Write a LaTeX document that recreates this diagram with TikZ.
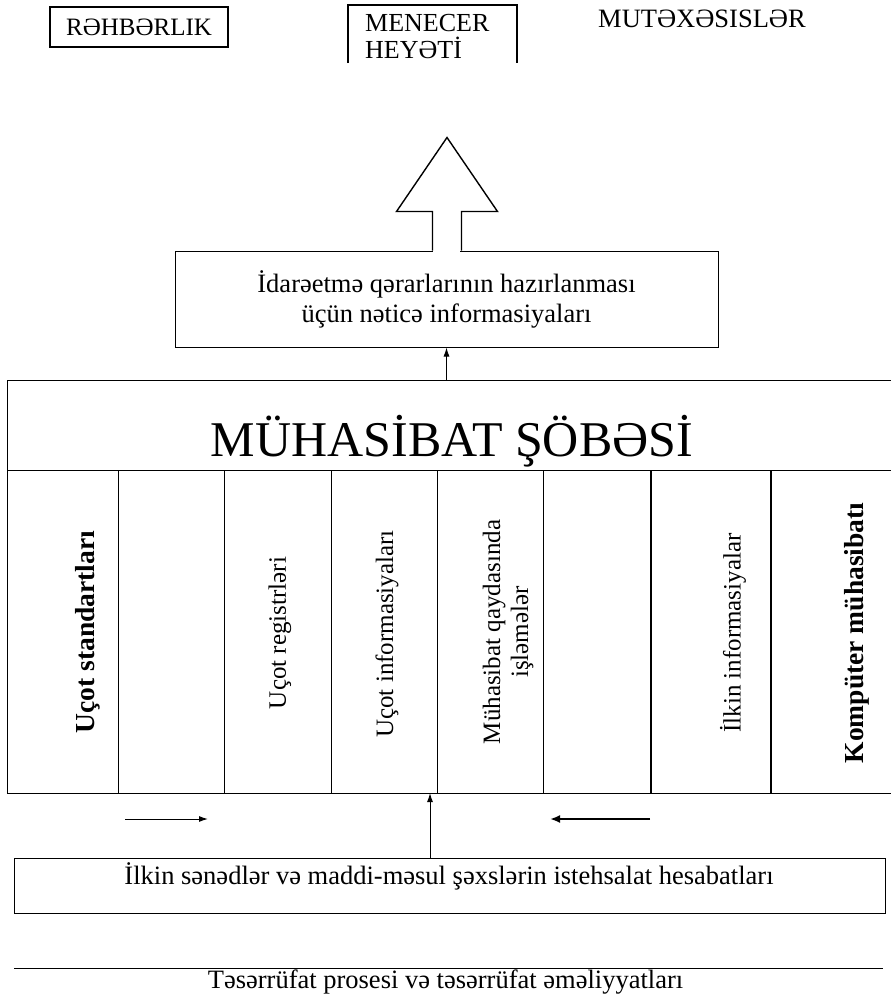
\documentclass[tikz,border=0pt]{standalone}
\usepackage{fontspec}
\setmainfont{Liberation Serif}
\usetikzlibrary{positioning}
\usetikzlibrary{arrows.meta}
\tikzset{
    boxn/.style = {draw=black, line width=1pt, inner sep=0pt, align=center},
    boxt/.style = {draw=black, line width=2pt, inner sep=0pt},
    coltext/.style = {rotate=90, align=center, inner sep=0pt, font=\fontsize{25}{28}\selectfont},
    coltextb/.style = {coltext, font=\fontsize{27.5}{29}\selectfont\bfseries},
    edgen/.style = {-, line width=1pt, black},
    edgeg/.style = {-, line width=1.6pt, black},
    edgea/.style = {-{Latex[length=9pt,width=6pt]}, line width=1pt, black},
    edgeat/.style = {-{Latex[length=10pt,width=8pt]}, line width=2.4pt, black},
    hollow/.style = {line width=1.4pt, black, line join=miter}
}
\begin{document}
\begin{tikzpicture}[x=1pt, y=-1pt, font=\fontsize{25}{27}\selectfont]
  \useasboundingbox (0,0) rectangle (891,996);
  % top row
  \node[boxt, minimum width=178pt, minimum height=40pt] (rehberlik) at (139,27) {RƏHBƏRLIK};
  \draw[line width=2pt] (348,63) -- (348,5) -- (517,5) -- (517,63);
  \node[anchor=north west, align=left, inner sep=0pt, font=\fontsize{26}{27}\selectfont] (menecer) at (365,14) {MENECER\\HEYƏTİ};
  \node[anchor=base west, inner sep=0pt, font=\fontsize{26.5}{28}\selectfont] (mutexesis) at (598,27) {MUTƏXƏSISLƏR};
  % result box with the hollow arrow
  \node[boxn, minimum width=543pt, minimum height=96pt, font=\fontsize{26.5}{30}\selectfont] (qerar) at (446.5,299)
    {İdarəetmə qərarlarının hazırlanması\\üçün nəticə informasiyaları};
  \fill[white] ([xshift=-13.5pt,yshift=2pt]qerar.north) rectangle ([xshift=13.5pt,yshift=-2pt]qerar.north);
  \draw[hollow] ([xshift=-14pt]qerar.north) -- ++(0,-39) -- ++(-36,0) -- ++(50.5,-74)
    -- ++(50.5,74) -- ++(-36,0) -- ++(0,39);
  % accounting department
  \node[minimum width=884pt, minimum height=90pt, inner sep=0pt] (muhasibat) at (449,425) {};
  \node[anchor=base, inner sep=0pt, font=\fontsize{50}{52}\selectfont] (basliq) at (452,456) {MÜHASİBAT ŞÖBƏSİ};
  \draw[edgen] (891,380) -- (7,380) -- (7,793) -- (891,793);
  \draw[edgen] (7,470) -- (891,470);
  \foreach \x in {118,224,331,437,543}
    \draw[edgen] (\x,470) -- (\x,793);
  \foreach \x in {651,771}
    \draw[edgeg] (\x,470) -- (\x,793);
  \node[coltextb] (standart) at (88,632) {Uçot standartları};
  \node[coltext] (registr) at (280,633) {Uçot registrləri};
  \node[coltext] (inform) at (387,634) {Uçot informasiyaları};
  \node[coltext] (islem) at (508,632) {Mühasibat qaydasında\\işləmələr};
  \node[coltext] (ilkininf) at (733,633) {İlkin informasiyalar};
  \node[coltextb] (komputer) at (857,633) {Kompüter mühasibatı};
  \draw[edgea] (qerar.south |- muhasibat.north) -- (qerar.south);
  % arrows under the department
  \coordinate (sag1) at (125,819);
  \coordinate (sag2) at (208,819);
  \coordinate (sol1) at (650,819);
  \coordinate (sol2) at (550,819);
  \coordinate (alt) at (430,793);
  \draw[edgea] (sag1) -- (sag2);
  \draw[edgeat] (sol1) -- (sol2);
  % primary documents
  \node[boxn, minimum width=871pt, minimum height=55pt] (ilkin) at (449.5,885.5) {};
  \node[anchor=base, inner sep=0pt, font=\fontsize{26.5}{28}\selectfont] (ilkintxt) at (449,884) {İlkin sənədlər və maddi-məsul şəxslərin istehsalat hesabatları};
  \draw[edgea] (ilkin.north -| alt) -- (alt);
  % economic process
  \coordinate (xett1) at (14,968);
  \coordinate (xett2) at (883,968);
  \draw[edgen] (xett1) -- (xett2);
  \node[anchor=base, inner sep=0pt, font=\fontsize{26.5}{28}\selectfont] (proses) at (445.5,988) {Təsərrüfat prosesi və təsərrüfat əməliyyatları};
\end{tikzpicture}
\end{document}
